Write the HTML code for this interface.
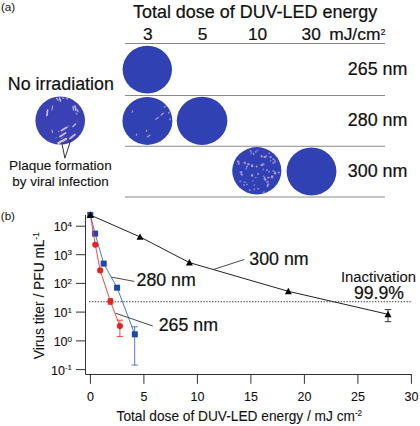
<!DOCTYPE html>
<html><head><meta charset="utf-8"><title>Figure</title>
<style>
html,body{margin:0;padding:0;background:#fff;}
svg{display:block;font-family:"Liberation Sans",Arial,sans-serif;fill:#111;}
text{stroke:#111;stroke-width:0.1px;}
text.L{stroke-width:0.22px;}
text.S{stroke-width:0;}
.ln{stroke:#8a8a8a;stroke-width:1.1;fill:none}
.ax{stroke:#333;stroke-width:1;fill:none}
.dish{fill:#2f41b3}
.pl{stroke:#c9b6f2;stroke-linecap:round;fill:none}
</style></head>
<body>
<svg width="420" height="426" viewBox="0 0 420 426">
<rect width="420" height="426" fill="#fff"/>
<!-- panel a -->
<text class="S" x="0.9" y="10.8" font-size="11.7">(a)</text>
<text class="L" x="133" y="17.5" font-size="17.8" textLength="244.3" lengthAdjust="spacingAndGlyphs">Total dose of DUV-LED energy</text>
<text class="L" x="147.8" y="40.4" font-size="17.3" text-anchor="middle">3</text>
<text class="L" x="202.5" y="40.4" font-size="17.3" text-anchor="middle">5</text>
<text class="L" x="257.5" y="40.4" font-size="17.3" text-anchor="middle">10</text>
<text class="L" x="301.6" y="40.4" font-size="17.3">30</text>
<text class="L" x="329.2" y="40.4" font-size="17.4">mJ/cm<tspan font-size="8.3" dy="-5.4" dx="0.4">2</tspan></text>
<line class="ln" x1="125" y1="43.5" x2="385" y2="43.5" stroke-width="1"/>
<line class="ln" x1="125" y1="95.5" x2="385" y2="95.5" stroke-width="1"/>
<line class="ln" x1="125" y1="146.3" x2="385" y2="146.3" stroke-width="1.2"/>
<line class="ln" x1="125" y1="197" x2="385" y2="197" stroke-width="1.6" stroke="#a2a2a2"/>
<text class="L" x="347.8" y="74.9" font-size="17.85">265 nm</text>
<text class="L" x="347.8" y="125.8" font-size="17.85">280 nm</text>
<text class="L" x="347.8" y="176.6" font-size="17.85">300 nm</text>
<text class="L" x="7.8" y="89.8" font-size="17.8" textLength="106" lengthAdjust="spacingAndGlyphs">No irradiation</text>
<text x="9.1" y="170" font-size="13.5" textLength="102.6" lengthAdjust="spacingAndGlyphs">Plaque formation</text>
<text x="12.2" y="185.7" font-size="13.5" textLength="96.6" lengthAdjust="spacingAndGlyphs">by viral infection</text>
<!-- dishes -->
<ellipse class="dish" cx="60.2" cy="120.5" rx="24.8" ry="24.1" style="fill:#3a41b2"/>
<ellipse class="dish" cx="147.3" cy="69.6" rx="24.7" ry="23.9"/>
<ellipse class="dish" cx="147.4" cy="120.9" rx="25" ry="24"/>
<ellipse class="dish" cx="202.05" cy="120.8" rx="25.3" ry="24.1"/>
<ellipse class="dish" cx="256.8" cy="170.8" rx="24.6" ry="23.7"/>
<ellipse class="dish" cx="311.5" cy="171.5" rx="24.9" ry="24"/>
<defs><filter id="bl" x="-20%" y="-20%" width="140%" height="140%"><feGaussianBlur stdDeviation="0.45"/></filter><filter id="bl2" x="-20%" y="-20%" width="140%" height="140%"><feGaussianBlur stdDeviation="0.55"/></filter></defs>
<!-- plaques -->
<g stroke="#d3c2f7" stroke-linecap="round" fill="none" filter="url(#bl)"><path d="M47.6,110L47,115.5" stroke-width="1.6" opacity="1"/><path d="M52.5,106L52,110" stroke-width="1.0" opacity="0.85"/><path d="M56.6,98.4L58,100" stroke-width="1.3" opacity="0.9"/><path d="M59.6,98L60.5,101" stroke-width="1.5" opacity="0.95"/><path d="M62.5,97.8L64,98.6" stroke-width="1.0" opacity="0.8"/><path d="M66.5,98L67.5,99.2" stroke-width="1.1" opacity="0.85"/><path d="M73,106.5L73.6,110" stroke-width="1.3" opacity="0.9"/><path d="M75,106L76,110.5" stroke-width="1.5" opacity="0.95"/><path d="M77.5,109.5L78.1,112" stroke-width="1.1" opacity="0.85"/><path d="M76,113L77,114.5" stroke-width="1.0" opacity="0.8"/><path d="M75.5,124L73,126.5" stroke-width="1.5" opacity="0.9"/><path d="M77.5,121L77.7,121.3" stroke-width="0.9" opacity="0.6"/><path d="M69,125.5L67.5,127.5" stroke-width="0.9" opacity="0.5"/><path d="M66.5,127.5L61.5,130.5" stroke-width="1.9" opacity="0.95"/><path d="M52,130L52.5,132.5" stroke-width="1.2" opacity="0.8"/><path d="M58.3,131.4L59.3,131.8" stroke-width="0.9" opacity="0.6"/><path d="M65.5,133L60,136.5" stroke-width="1.7" opacity="0.95"/><path d="M56.5,137.5L55.5,138.5" stroke-width="0.9" opacity="0.5"/><path d="M75,134.5L70,138.5" stroke-width="1.9" opacity="0.9"/><path d="M66,139L58.5,143" stroke-width="2.4" opacity="1"/><path d="M63,137.5L61.5,138.5" stroke-width="0.9" opacity="0.5"/></g>
<g fill="#c4a4ea" filter="url(#bl2)"><ellipse cx="255.8" cy="151.8" rx="1.03" ry="0.91" opacity="0.79"/><ellipse cx="253.6" cy="154.0" rx="0.85" ry="1.18" opacity="0.66"/><ellipse cx="251.4" cy="153.3" rx="0.84" ry="1.16" opacity="0.52"/><ellipse cx="257.3" cy="150.3" rx="1.10" ry="0.85" opacity="0.54"/><ellipse cx="250.7" cy="151.1" rx="1.10" ry="1.38" opacity="0.56"/><ellipse cx="261.7" cy="156.2" rx="0.96" ry="1.24" opacity="0.93"/><ellipse cx="264.7" cy="157.0" rx="1.20" ry="1.08" opacity="0.94"/><ellipse cx="266.2" cy="156.2" rx="0.83" ry="1.40" opacity="0.63"/><ellipse cx="269.1" cy="153.3" rx="0.90" ry="0.88" opacity="0.64"/><ellipse cx="270.6" cy="157.0" rx="1.37" ry="0.93" opacity="0.76"/><ellipse cx="273.5" cy="159.2" rx="1.25" ry="1.06" opacity="0.75"/><ellipse cx="270.6" cy="160.7" rx="0.84" ry="0.84" opacity="0.59"/><ellipse cx="275.0" cy="161.4" rx="1.28" ry="1.10" opacity="0.64"/><ellipse cx="273.5" cy="162.9" rx="1.21" ry="1.12" opacity="0.63"/><ellipse cx="263.2" cy="164.3" rx="1.36" ry="1.29" opacity="0.61"/><ellipse cx="261.7" cy="165.1" rx="1.20" ry="1.17" opacity="0.89"/><ellipse cx="248.4" cy="164.3" rx="1.31" ry="1.00" opacity="0.94"/><ellipse cx="247.0" cy="166.6" rx="0.88" ry="1.09" opacity="0.84"/><ellipse cx="246.2" cy="168.8" rx="0.91" ry="1.14" opacity="0.52"/><ellipse cx="244.8" cy="162.9" rx="1.27" ry="1.34" opacity="0.76"/><ellipse cx="238.1" cy="161.4" rx="1.41" ry="1.02" opacity="0.81"/><ellipse cx="238.8" cy="163.6" rx="1.22" ry="1.21" opacity="0.71"/><ellipse cx="241.1" cy="172.5" rx="1.39" ry="1.46" opacity="0.71"/><ellipse cx="241.8" cy="174.7" rx="1.26" ry="0.84" opacity="0.82"/><ellipse cx="252.1" cy="165.8" rx="1.25" ry="1.50" opacity="0.87"/><ellipse cx="256.6" cy="166.6" rx="1.00" ry="1.07" opacity="0.80"/><ellipse cx="263.2" cy="169.5" rx="0.82" ry="1.12" opacity="0.58"/><ellipse cx="266.9" cy="170.2" rx="0.88" ry="0.84" opacity="0.85"/><ellipse cx="269.1" cy="171.7" rx="0.89" ry="0.97" opacity="0.68"/><ellipse cx="273.5" cy="171.0" rx="1.41" ry="0.86" opacity="0.70"/><ellipse cx="275.0" cy="173.2" rx="1.18" ry="1.42" opacity="0.87"/><ellipse cx="278.7" cy="172.5" rx="1.40" ry="0.99" opacity="0.69"/><ellipse cx="252.1" cy="175.4" rx="1.05" ry="1.42" opacity="0.93"/><ellipse cx="255.8" cy="177.6" rx="0.91" ry="0.92" opacity="0.60"/><ellipse cx="258.0" cy="173.9" rx="0.96" ry="1.14" opacity="0.77"/><ellipse cx="263.9" cy="176.2" rx="0.98" ry="0.80" opacity="0.69"/><ellipse cx="264.7" cy="178.4" rx="1.06" ry="1.20" opacity="0.93"/><ellipse cx="265.4" cy="179.8" rx="1.28" ry="1.16" opacity="0.78"/><ellipse cx="268.4" cy="177.6" rx="1.27" ry="0.84" opacity="0.90"/><ellipse cx="272.1" cy="176.9" rx="1.35" ry="1.41" opacity="0.86"/><ellipse cx="240.3" cy="181.3" rx="1.07" ry="1.08" opacity="0.55"/><ellipse cx="244.8" cy="182.1" rx="1.24" ry="0.84" opacity="0.53"/><ellipse cx="247.0" cy="184.3" rx="0.95" ry="0.91" opacity="0.65"/><ellipse cx="252.9" cy="180.9" rx="0.84" ry="0.80" opacity="0.57"/><ellipse cx="254.3" cy="185.0" rx="0.87" ry="1.05" opacity="0.51"/><ellipse cx="267.6" cy="182.1" rx="1.41" ry="1.23" opacity="0.57"/><ellipse cx="268.4" cy="184.3" rx="0.98" ry="1.04" opacity="0.66"/><ellipse cx="267.6" cy="185.7" rx="0.89" ry="1.39" opacity="0.95"/><ellipse cx="249.9" cy="190.2" rx="1.13" ry="1.14" opacity="0.54"/><ellipse cx="254.3" cy="189.4" rx="0.87" ry="1.04" opacity="0.62"/><ellipse cx="258.0" cy="188.7" rx="1.38" ry="0.91" opacity="0.51"/><ellipse cx="263.9" cy="192.4" rx="1.47" ry="1.17" opacity="0.57"/><ellipse cx="244.0" cy="185.0" rx="1.18" ry="0.82" opacity="0.74"/></g>
<g stroke="#d59fde" stroke-width="1.2" stroke-linecap="round" fill="none" filter="url(#bl)" opacity="0.85"><path d="M132.3,112.1L132.7,110.9"/><path d="M164.7,107.4L165.1,106.2"/><path d="M161.0,115.1L163.6,113.1"/><path d="M155.8,119.3L158.4,117.3"/><path d="M168.7,113.3L169.1,112.1"/><path d="M169.8,119.9L170.2,118.7"/><path d="M146.3,131.4L146.7,130.2"/><path d="M136.3,135.4L136.7,134.2"/><path d="M147.4,137.0L150.0,135.0"/></g>
<!-- pointer -->
<polyline class="ax" points="61.8,142.5 64.9,158.2 71,139.3" stroke-width="0.9"/>
<!-- panel b -->
<text class="S" x="0.8" y="220.2" font-size="11.6">(b)</text>
<g class="ax">
<polyline points="85.5,215 85.5,374.5 411.9,374.5"/>
<path d="M76,226.2H85.5M76,254.7H85.5M76,283.4H85.5M76,312.1H85.5M76,340.9H85.5M76,369.6H85.5"/>
<path d="M90.4,374.5V383.8M143.9,374.5V383.8M197.4,374.5V383.8M250.9,374.5V383.8M304.4,374.5V383.8M357.9,374.5V383.8M411.4,374.5V383.8"/>
</g>
<g font-size="12.5" text-anchor="end">
<text x="72" y="230.9">10<tspan font-size="8" dy="-4.3">4</tspan></text><text x="72" y="259.6">10<tspan font-size="8" dy="-4.3">3</tspan></text><text x="72" y="288.3">10<tspan font-size="8" dy="-4.3">2</tspan></text><text x="72" y="317.0">10<tspan font-size="8" dy="-4.3">1</tspan></text><text x="72" y="345.8">10<tspan font-size="8" dy="-4.3">0</tspan></text><text x="72" y="374.5">10<tspan font-size="8" dy="-4.3">-1</tspan></text>
</g>
<g font-size="12.5" text-anchor="middle">
<text x="90.4" y="401.2">0</text><text x="143.9" y="401.2">5</text><text x="197.4" y="401.2">10</text><text x="250.9" y="401.2">15</text><text x="304.4" y="401.2">20</text><text x="357.9" y="401.2">25</text><text x="411.4" y="401.2">30</text>
</g>
<text x="116.6" y="421" font-size="13.9" textLength="245.5" lengthAdjust="spacingAndGlyphs">Total dose of DUV-LED energy / mJ cm<tspan font-size="8.2" dy="-5">-2</tspan></text>
<text transform="translate(44.2,359.3) rotate(-90)" font-size="14" textLength="127" lengthAdjust="spacingAndGlyphs">Virus titer / PFU mL<tspan font-size="8.2" dy="-5">-1</tspan></text>
<!-- dotted -->
<line x1="89" y1="301.7" x2="411" y2="301.7" stroke="#3a3a3a" stroke-width="1.1" stroke-dasharray="1.4,1.46"/>
<!-- 300 nm -->
<polyline points="90.3,215.0 140,236.9 189.4,262.6 288.3,291.3 388,314.3" fill="none" stroke="#222" stroke-width="1"/>
<g fill="#000"><path d="M90.3,211.5l3.5,6.4h-7z"/><path d="M140,233.4l3.5,6.4h-7z"/><path d="M189.4,259.1l3.5,6.4h-7z"/><path d="M288.3,287.8l3.5,6.4h-7z"/><path d="M388,310.8l3.5,6.4h-7z"/></g>
<path d="M388,309.6V321.7M384.7,309.6h6.6M384.7,321.7h6.6" stroke="#222" stroke-width="0.9" fill="none"/>
<!-- 280 nm -->
<polyline points="90.3,214.9 95.1,233.6 103.7,263.6 117.1,287.7 134.8,334.3" fill="none" stroke="#3b69c2" stroke-width="0.9"/>
<path d="M134.7,326.8V365.1M131.5,326.8h6.4M131.5,365.1h6.4" stroke="#3f6cc6" stroke-width="0.9" fill="none"/>
<g fill="#1d47a8"><rect x="87.3" y="211.9" width="6" height="6"/><rect x="92.1" y="230.6" width="6" height="6"/><rect x="100.7" y="260.6" width="6" height="6"/><rect x="114.1" y="284.7" width="6" height="6"/><rect x="131.8" y="331.3" width="6" height="6"/></g>
<!-- 265 nm -->
<polyline points="90.3,214.9 95.3,244.8 100.2,270.4 110.4,301.4 119.9,326.1" fill="none" stroke="#ee3836" stroke-width="0.9"/>
<path d="M119.9,320.2V336.6M116.7,320.2h6.4M116.7,336.6h6.4M107.7,298.6h5.4M107.7,304.3h5.4" stroke="#ee3836" stroke-width="0.9" fill="none"/>
<g fill="#e6211f"><circle cx="95.3" cy="244.8" r="3.05"/><circle cx="100.2" cy="270.4" r="3.05"/><circle cx="110.4" cy="301.4" r="3.05"/><circle cx="119.9" cy="326.1" r="3.05"/></g>
<path fill="#000" d="M90.3,211.5l3.5,6.4h-7z"/>
<!-- labels -->
<text class="L" x="136.5" y="285.8" font-size="17.8">280 nm</text>
<text class="L" x="158.7" y="330.7" font-size="17.8">265 nm</text>
<text class="L" x="249.3" y="264.6" font-size="17.8">300 nm</text>
<path d="M111.4,277.1L134.3,281.4M115.5,313.2L152.8,326M213.3,269.5L244.3,259.5" stroke="#333" stroke-width="0.9" fill="none"/>
<text x="341" y="281.9" font-size="14.7" textLength="75" lengthAdjust="spacingAndGlyphs">Inactivation</text>
<text class="L" x="354" y="298.6" font-size="17.6">99.9%</text>
</svg>
</body></html>
